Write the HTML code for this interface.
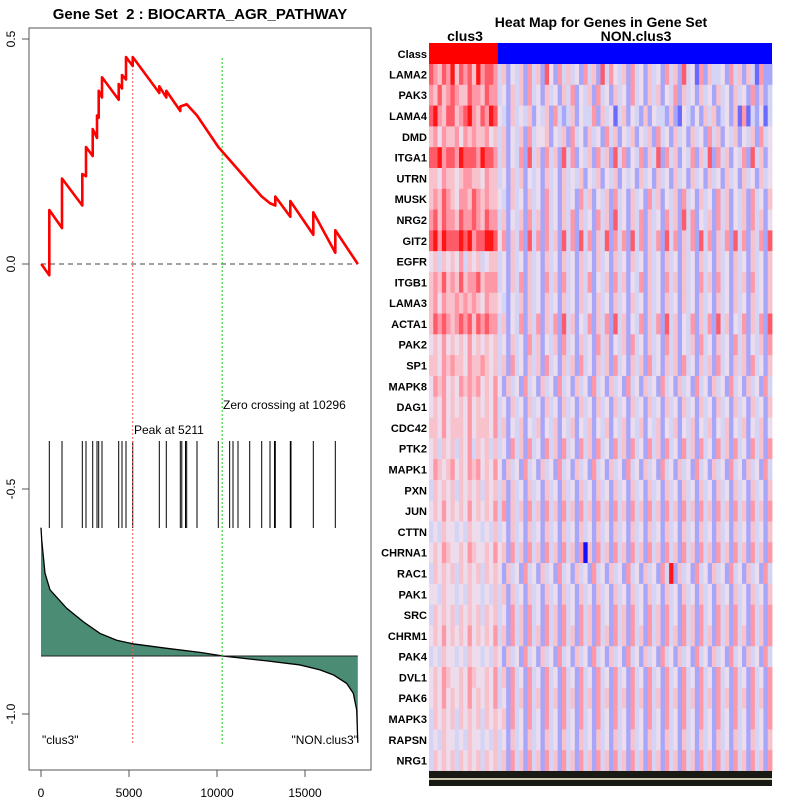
<!DOCTYPE html>
<html><head><meta charset="utf-8"><style>
html,body{margin:0;padding:0;background:#fff;}
svg{display:block;font-family:"Liberation Sans",sans-serif;}
</style></head><body>
<svg id="chart" width="800" height="800" viewBox="0 0 800 800">
<text x="200" y="19" text-anchor="middle" font-size="15" font-weight="bold">Gene Set&#160; 2 : BIOCARTA_AGR_PATHWAY</text>
<rect x="29" y="28" width="342" height="742" fill="none" stroke="#555" stroke-width="1"/>
<g id="left"></g>
<text x="601" y="27" text-anchor="middle" font-size="14" font-weight="bold">Heat Map for Genes in Gene Set</text>
<text x="465" y="41" text-anchor="middle" font-size="14" font-weight="bold">clus3</text>
<text x="636" y="41" text-anchor="middle" font-size="14" font-weight="bold">NON.clus3</text>
<g id="heat"></g>
</svg>
<script>
// ---- enrichment data ----
const esRanks = [17,472,472,1193,1193,2347,2347,2557,2557,2938,2938,3182,3182,3278,3278,3466,3466,4415,4415,4602,4602,4830,4830,5211,5211,6722,6722,7119,7119,7915,7915,8278,8864,10074,11193,11858,12540,13011,13313,13313,14165,14165,15472,15472,16722,16722,18000];
const esValues = [0,-0.025,0.12,0.08,0.19,0.13,0.2,0.195,0.26,0.24,0.30,0.28,0.33,0.325,0.385,0.37,0.415,0.365,0.40,0.39,0.42,0.41,0.46,0.44,0.46,0.38,0.395,0.37,0.385,0.34,0.35,0.355,0.33,0.26,0.21,0.18,0.15,0.135,0.13,0.15,0.105,0.14,0.065,0.115,0.025,0.075,0];
const hitRanks = [472,1193,2347,2557,2938,3182,3278,3466,4415,4602,4830,5211,6722,7119,7915,8000,8210,8278,8864,10074,10719,10909,11193,11858,12540,13011,13267,13313,14165,14205,15472,16722];
const metricRanks = [0,40,97,227,511,1460,2403,3352,4301,5211,7142,9034,10296,12824,14716,15852,16608,17369,17744,17938,18000];
const metricValues = [-0.586,-0.613,-0.636,-0.687,-0.724,-0.765,-0.795,-0.821,-0.836,-0.844,-0.854,-0.863,-0.871,-0.882,-0.891,-0.902,-0.913,-0.932,-0.954,-0.991,-1.064];
const xTicks = [0,5000,10000,15000];
const yTicks = [0.5,0.0,-0.5,-1.0];
const yTickLabels = ["0.5","0.0","-0.5","-1.0"];
const peakRank = 5211, zeroRank = 10296, baseline = -0.871;

const NS='http://www.w3.org/2000/svg';
function mk(tag,attrs,parent){const e=document.createElementNS(NS,tag);for(const k in attrs)e.setAttribute(k,attrs[k]);parent.appendChild(e);return e;}
const X = r => 41 + r*0.0176;
const Y = v => 264 - v*450;
const L = document.getElementById('left');

xTicks.forEach(t=>{
  const l=mk('line',{x1:X(t),x2:X(t),y1:770,y2:777,stroke:'#555'},L);
  
  
  const tx=mk('text',{x:X(t),y:797,'text-anchor':'middle','font-size':12},L);
  tx.textContent=t;
  
  
});
yTicks.forEach((t,i)=>{
  const l=mk('line',{x1:22,x2:29,y1:Y(t),y2:Y(t),stroke:'#555'},L);
  
  
  const tx=mk('text',{x:0,y:0,'text-anchor':'middle','font-size':12,transform:`translate(15,${Y(t)}) rotate(-90)`},L);
  tx.textContent=yTickLabels[i];
  
  
});

let pts = metricRanks.map((r,i)=>X(r)+','+Y(metricValues[i])).join(' ');
const area=mk('polygon',{points:X(0)+','+Y(baseline)+' '+pts+' '+X(18000)+','+Y(baseline),fill:'#4a8c74',stroke:'none'},L);


const mline=mk('polyline',{points:pts,fill:'none',stroke:'#000','stroke-width':1.3},L);


const bl=mk('line',{x1:X(0),x2:X(18000),y1:Y(baseline),y2:Y(baseline),stroke:'#222','stroke-width':1},L);



const zl=mk('line',{x1:X(0),x2:X(18000),y1:Y(0),y2:Y(0),stroke:'#444','stroke-dasharray':'5,4','stroke-width':1},L);



hitRanks.forEach(r=>{
  const l=mk('line',{x1:X(r),x2:X(r),y1:441,y2:528,stroke:'#000','stroke-width':1},L);
  
  
});

const pk=mk('line',{x1:X(peakRank),x2:X(peakRank),y1:Y(0.46),y2:744,stroke:'#e86060','stroke-dasharray':'2,2','stroke-width':1},L);


const zc=mk('line',{x1:X(zeroRank),x2:X(zeroRank),y1:58,y2:744,stroke:'#22cc22','stroke-dasharray':'2,2','stroke-width':1},L);



const es=mk('polyline',{points:esRanks.map((r,i)=>X(r)+','+Y(esValues[i])).join(' '),fill:'none',stroke:'#ff0000','stroke-width':2.6,'stroke-linejoin':'round'},L);



[[134,434,'Peak at 5211','peak-label','start'],[223,409,'Zero crossing at 10296','zero-crossing-label','start'],[42,744,'"clus3"','clus3-label','start'],[358,744,'"NON.clus3"','non-clus3-label','end']].forEach(a=>{
  const t=mk('text',{x:a[0],y:a[1],'font-size':12,'text-anchor':a[4]},L);
  t.textContent=a[2];
  
  
});

// ---- heatmap data ----
const genes = ["LAMA2","PAK3","LAMA4","DMD","ITGA1","UTRN","MUSK","NRG2","GIT2","EGFR","ITGB1","LAMA3","ACTA1","PAK2","SP1","MAPK8","DAG1","CDC42","PTK2","MAPK1","PXN","JUN","CTTN","CHRNA1","RAC1","PAK1","SRC","CHRM1","PAK4","DVL1","PAK6","MAPK3","RAPSN","NRG1"];
const heatRows = [
"76576857675867763524352635274263534263527364352634253426352734162533426352531622",
"65756765576657663425352634253425362435263425342634253524362534253425342534262523",
"78657756786576874325343524352632352433625341352432524332521432425352342516132413",
"56465564656556453524352634452435263425342635243524352634253425342635243524352634",
"77867768777687763524362735263527362435263527362436253726352436253726352436273524",
"55465545665546553425352434253425343524352435243425342534253425342534253425342534",
"56576546657656554325342534263425342635243526342534263524352634253426352435263425",
"67576657667657663524352635263425362534263527342536253426352736243526352435263524",
"78687778786778874625362736263527362736253726362736253627362536273625362736253627",
"45354546354534553425342534253425342534253425342534253425342534253425342534253425",
"56575657566756663425362534263526342536243526352436253426352534263526342535263425",
"56465565656546554324352534253425342534253425342534253425342534253425342534253425",
"57676567675767663524362536253627352436253627352436253627352436253627352436253627",
"45464545464545453425342635243526342534263524352634253426352435263425342635243526",
"55465655465565453526342535263425352634253526342535263425352634253526342535263425",
"46564546565645464253426342534263425342634253426342534263425342634253426342534263",
"45464545464545463425342534253425342534253425342534253425342534253425342534253425",
"55464555464555463524352435243524352435243524352435243524352435243524352435243524",
"45354535463545353426352634263526342635263426352634263526342635263426352634263526",
"46545645465645464253426342534263425342634253426342534263425342634253426342534263",
"35454535454535453525342534253425342534253425342534253425342534253425342534253425",
"45464545464545463625352635263526352635263526352635263526352635263526352635263526",
"34354434354434353425342534253425342534253425342534253425342534253425342534253425",
"45465445465445464526352635263526352605263526352635263526352635263526352635263526",
"35454535454535454253426342534263425342634253426342534263825342634253426342534263",
"44354434354434353525342534253425342534253425342534253425342534253425342534253425",
"35454535454535453426352634263526342635263426352634263526342635263426352634263526",
"45464545464545463526352635263526352635263526352635263526352635263526352635263526",
"34354434354434354253426342534263425342634253426342534263425342634253426342534263",
"45465445465445463526342634263426342634263426342634263426342634263426342634263426",
"45464545464545463426352635263526352635263526352635263526352635263526352635263526",
"35454535454535454526342634263426342634263426342634263426342634263426342634263426",
"34354434354434353425342534253425342534253425342534253425342534253425342534253425",
"35454535454535453526352635263526352635263526352635263526352635263526352635263526"
];
const palette = ["#1010ff","#6a6aff","#a6a6fa","#d4d4f6","#ecdcec","#f8c2cc","#ff98a6","#ff5a68","#ff1515"];
const classSplit = 16/80;

const H=document.getElementById('heat');
const hx0=429, hx1=772, hy0=64, rowH=(771-64)/genes.length;
const cr=mk('rect',{x:hx0,y:43,width:(hx1-hx0)*classSplit,height:21,fill:'#ff0000'},H);


const cb=mk('rect',{x:hx0+(hx1-hx0)*classSplit,y:43,width:(hx1-hx0)*(1-classSplit),height:21,fill:'#0000ff'},H);


const ct=mk('text',{x:427,y:58,'text-anchor':'end','font-size':11,'font-weight':'bold'},H);
ct.textContent='Class';


genes.forEach((g,i)=>{
  const row=heatRows[i], n=row.length, cw=(hx1-hx0)/n, y=hy0+i*rowH;
  for(let j=0;j<n;j++){
    const c=mk('rect',{x:hx0+j*cw,y:y,width:cw+0.4,height:rowH+0.4,fill:palette[+row[j]]},H);
    
    
  }
  const t=mk('text',{x:427,y:y+rowH/2+4,'text-anchor':'end','font-size':11,'font-weight':'bold'},H);
  t.textContent=g;
  
  
});
const strip=mk('rect',{x:hx0,y:771,width:hx1-hx0,height:15,fill:'#1a1a14'},H);


const sl=mk('rect',{x:hx0,y:778,width:hx1-hx0,height:2,fill:'#cfc8b0'},H);


</script>
</body></html>
